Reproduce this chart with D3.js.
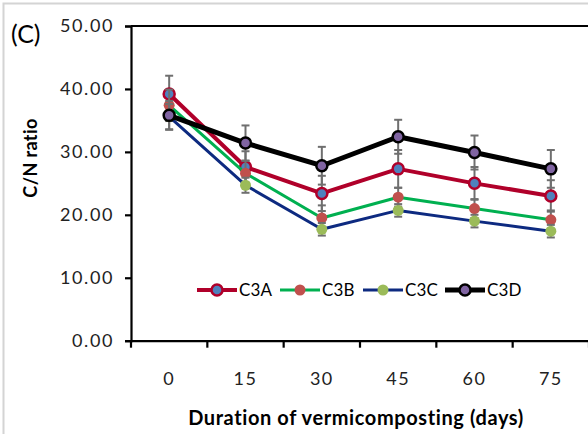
<!DOCTYPE html>
<html>
<head>
<meta charset="utf-8">
<script src="https://cdn.jsdelivr.net/npm/d3@7/dist/d3.min.js"></script>
<style>
  body { margin: 0; background: #fff; }
  text { font-family: Lato, "Open Sans", sans-serif; }
</style>
</head>
<body>
<script>
"use strict";
// values
const days = ["0", "15", "30", "45", "60", "75"];
const seriesNames = ["C3A", "C3B", "C3C", "C3D"];
const c3a = [39.2, 27.6, 23.4, 27.3, 25.0, 23.0];
const c3b = [37.4, 26.6, 19.5, 22.8, 21.0, 19.2];
const c3c = [35.6, 24.7, 17.7, 20.7, 19.0, 17.4];
const c3d = [35.8, 31.4, 27.8, 32.4, 29.9, 27.3];
const errA = [2.9, 2.5, 2.8, 3.0, 2.6, 2.5];
const errB = [2.5, 2.0, 2.0, 1.5, 1.5, 1.5];
const errC = [2.0, 1.2, 1.0, 1.0, 1.0, 1.0];
const errD = [2.3, 2.8, 3.0, 2.7, 2.7, 3.0];
const yTicks = [0, 10, 20, 30, 40, 50];

const styles = {
    C3A: { line: "#B0002A", width: 4, fill: "#4F81BD", stroke: "#B0002A", sw: 2.5 },
    C3B: { line: "#00B050", width: 3, fill: "#C0504D", stroke: "#C0504D", sw: 0 },
    C3C: { line: "#0D2A80", width: 3, fill: "#9BBB59", stroke: "#9BBB59", sw: 0 },
    C3D: { line: "#000000", width: 5, fill: "#8064A2", stroke: "#000000", sw: 2.5 }
};

const series = [
    { name: "C3A", values: c3a, err: errA },
    { name: "C3B", values: c3b, err: errB },
    { name: "C3C", values: c3c, err: errC },
    { name: "C3D", values: c3d, err: errD }
];

const width = 588, height = 434;
const svg = d3.select("body").append("svg")
    .attr("width", width)
    .attr("height", height);

// outer frame
svg.append("rect")
    .attr("x", 3.5).attr("y", 3.5)
    .attr("width", 620).attr("height", 460)
    .attr("fill", "none")
    .attr("stroke", "#d4d4d4")
    .attr("stroke-width", 2);

const x = d3.scaleBand().domain(days).range([131, 589]);
const y = d3.scaleLinear().domain([0, 50]).range([340.7, 26]);

// top border of plot area
svg.append("line")
    .attr("x1", 131).attr("x2", 600)
    .attr("y1", y(50)).attr("y2", y(50))
    .attr("stroke", "#000").attr("stroke-width", 2);

// y axis
const yAxis = svg.append("g")
    .attr("transform", "translate(131,0)")
    .call(d3.axisLeft(y).tickValues(yTicks).tickFormat(d3.format(".2f")).tickSize(6).tickPadding(11));
yAxis.select(".domain").attr("stroke-width", 2.2);
yAxis.selectAll(".tick line").attr("stroke-width", 2.2);
yAxis.selectAll("text")
    .attr("font-size", 18)
    .attr("letter-spacing", 1.6)
    .attr("fill", "#222")
    .attr("font-family", "Lato");

// x axis: labels at centres, ticks at band edges
const xAxis = svg.append("g")
    .attr("transform", "translate(0," + y(0) + ")")
    .call(d3.axisBottom(x).tickSize(0).tickPadding(32));
xAxis.select(".domain").attr("stroke-width", 2.2);
xAxis.selectAll("text")
    .attr("font-size", 18)
    .attr("letter-spacing", 1.5)
    .attr("fill", "#222")
    .attr("font-family", "Lato");

const edges = days.map(d => x(d)).concat([x.range()[1]]);
xAxis.selectAll(".edge")
    .data(edges)
    .enter()
    .append("line")
    .attr("x1", d => d).attr("x2", d => d)
    .attr("y1", 0).attr("y2", 7)
    .attr("stroke", "#000")
    .attr("stroke-width", 2.2);

// axis titles
svg.append("text")
    .attr("x", 356).attr("y", 425)
    .attr("text-anchor", "middle")
    .attr("font-size", 20)
    .attr("letter-spacing", 0.6)
    .attr("font-weight", "bold")
    .text("Duration of vermicomposting (days)");

svg.append("text")
    .attr("transform", "translate(37,158) rotate(-90)")
    .attr("text-anchor", "middle")
    .attr("font-size", 18)
    .attr("letter-spacing", 0.4)
    .attr("font-weight", "bold")
    .text("C/N ratio");

svg.append("text")
    .attr("x", 11).attr("y", 43)
    .attr("font-size", 25)
    .text("(C)");

const cx = d => x(d) + x.bandwidth() / 2;

// error bars and lines, one series at a time
series.forEach(s => {
    const st = styles[s.name];
    const g = svg.append("g");
    const eb = g.selectAll(".err")
        .data(days.map((d, i) => ({ d: d, v: s.values[i], e: s.err[i] })))
        .enter().append("g");
    eb.append("line")
        .attr("x1", d => cx(d.d)).attr("x2", d => cx(d.d))
        .attr("y1", d => y(d.v - d.e)).attr("y2", d => y(d.v + d.e))
        .attr("stroke", "#6f6f6f").attr("stroke-width", 2);
    [-1, 1].forEach(sign => {
        eb.append("line")
            .attr("x1", d => cx(d.d) - 4).attr("x2", d => cx(d.d) + 4)
            .attr("y1", d => y(d.v + sign * d.e)).attr("y2", d => y(d.v + sign * d.e))
            .attr("stroke", "#6f6f6f").attr("stroke-width", 2);
    });

    const line = d3.line()
        .x((v, i) => cx(days[i]))
        .y(v => y(v));
    g.append("path")
        .datum(s.values)
        .attr("d", line)
        .attr("fill", "none")
        .attr("stroke", st.line)
        .attr("stroke-width", st.width)
        .attr("stroke-linejoin", "round");

    g.selectAll("circle")
        .data(s.values)
        .enter().append("circle")
        .attr("cx", (v, i) => cx(days[i]))
        .attr("cy", v => y(v))
        .attr("r", 5.5)
        .attr("fill", st.fill)
        .attr("stroke", st.stroke)
        .attr("stroke-width", st.sw);
});

// legend
const legendX = [197, 280, 363, 445];
const legend = svg.selectAll(".legend")
    .data(seriesNames)
    .enter().append("g")
    .attr("transform", (d, i) => "translate(" + legendX[i] + ",290)");
legend.append("line")
    .attr("x1", 0).attr("x2", 40)
    .attr("stroke", d => styles[d].line)
    .attr("stroke-width", d => styles[d].width);
legend.append("circle")
    .attr("cx", 20).attr("r", 5.5)
    .attr("fill", d => styles[d].fill)
    .attr("stroke", d => styles[d].stroke)
    .attr("stroke-width", d => styles[d].sw);
legend.append("text")
    .attr("x", 42).attr("y", 6)
    .attr("font-size", 17)
    .attr("letter-spacing", 0.2)
    .text(d => d);
</script>
</body>
</html>
